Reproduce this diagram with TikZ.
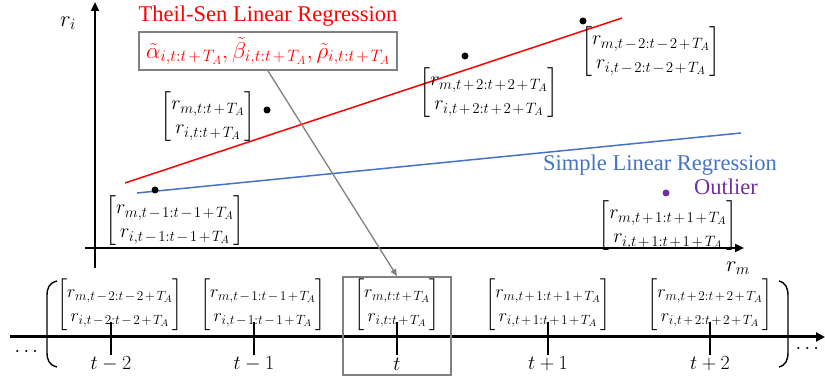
\RequirePackage{fix-cm}
\documentclass[tikz,border=0pt]{standalone}
\usepackage{amsmath}
\usepackage{fontspec}
\setmainfont{Liberation Serif}
\usetikzlibrary{arrows.meta}
\definecolor{slrblue}{HTML}{4472C4}
\definecolor{outl}{HTML}{7030A0}
\definecolor{boxgray}{HTML}{808080}
\DeclareMathSizes{20}{20}{15}{11}
\DeclareMathSizes{18}{18}{13.4}{9.8}
\DeclareMathSizes{23}{23}{16.5}{12}
\newcommand{\mi}{\mskip2mu{-}\mskip2mu}
\newcommand{\pl}{\mskip2mu{+}\mskip2mu}
\newcommand{\vv}[1]{\begin{bmatrix} r_{m,#1}\\ r_{i,#1}\end{bmatrix}}
\begin{document}
\begin{tikzpicture}[x=1pt,y=-1pt,
  vec/.style={inner sep=0pt, font=\fontsize{20}{24}\selectfont},
  bvec/.style={inner sep=0pt, font=\fontsize{18}{24}\selectfont},
  lbl/.style={inner sep=0pt, font=\fontsize{22.5}{26}\selectfont},
  ticklbl/.style={inner sep=0pt, font=\fontsize{20}{24}\selectfont},
  dot/.style={circle, fill=black, inner sep=0pt, minimum size=7pt},
  axis/.style={line width=2.5pt, -{Triangle[length=9pt,width=8pt]}},
  tickmark/.style={line width=1.5pt},
  graybox/.style={draw=boxgray, line width=1.8pt},
  paren/.style={line width=1.4pt}]
\useasboundingbox (0,0) rectangle (825,379);

% axes
\coordinate (yb) at (95,268);
\coordinate (yt) at (95,2);
\coordinate (xl) at (85,248);
\coordinate (xr) at (744,248);
\draw[axis] (yb) -- (yt);
\draw[axis] (xl) -- (xr);
\node[lbl] (ri) at (68,23) {$r_i$};
\node[lbl] (rm) at (738,268) {$r_m$};

% regression lines
\coordinate (ts1) at (125,183);
\coordinate (ts2) at (622,18);
\coordinate (sl1) at (137,193);
\coordinate (sl2) at (741,133);
\draw[red, line width=1.5pt] (ts1) -- (ts2);
\draw[slrblue, line width=1.5pt] (sl1) -- (sl2);

% labels
\node[lbl, text=red] (tslabel) at (268,16) {Theil-Sen Linear Regression};
\node[graybox, minimum width=258pt, minimum height=38pt, inner sep=0pt, text=red, font=\fontsize{23}{28}\selectfont]
  (params) at (268,51) {$\tilde{\alpha}_{i,t:t\pl T_A},\tilde{\beta}_{i,t:t\pl T_A},\tilde{\rho}_{i,t:t\pl T_A}$};
\node[lbl, text=slrblue] (slrlabel) at (660,165) {Simple Linear Regression};
\node[lbl, text=outl] (outlabel) at (726,187) {Outlier};

% points
\node[dot] (d0) at (267,110) {};
\node[dot] (dm1) at (155,190) {};
\node[dot] (dp2) at (465,56) {};
\node[dot] (dm2) at (583,21) {};
\node[dot, fill=outl] (dp1) at (666,193) {};

% vectors in plot
\node[vec] (v0) at (208,117) {$\vv{t:t\pl T_A}$};
\node[vec] (vm1) at (175,221) {$\vv{t\mi 1:t\mi 1\pl T_A}$};
\node[vec] (vp2) at (489,93) {$\vv{t\pl 2:t\pl 2\pl T_A}$};
\node[vec] (vm2) at (651,52) {$\vv{t\mi 2:t\mi 2\pl T_A}$};
\node[vec] (vp1) at (668,226) {$\vv{t\pl 1:t\pl 1\pl T_A}$};

% timeline
\coordinate (tl) at (10,337);
\coordinate (tr) at (825,337);
\draw[line width=3pt, -{Triangle[length=9pt,width=9pt]}] (tl) -- (tr);

\foreach \n/\x/\lab in {a/111/t-2, b/254/t-1, c/397/t, d/548/t+1, e/710/t+2}{
  \coordinate (tk\n1) at (\x,322);
  \coordinate (tk\n2) at (\x,355);
  \draw[tickmark] (tk\n1) -- (tk\n2);
  \node[ticklbl] (tl\n) at (\x,364) {$\lab$};
}

\node[bvec] (ba) at (120,305) {$\vv{t\mi 2:t\mi 2\pl T_A}$};
\node[bvec] (bb) at (263,305) {$\vv{t\mi 1:t\mi 1\pl T_A}$};
\node[bvec] (bc) at (397,305) {$\vv{t:t\pl T_A}$};
\node[bvec] (bd) at (548,305) {$\vv{t\pl 1:t\pl 1\pl T_A}$};
\node[bvec] (be) at (710,305) {$\vv{t\pl 2:t\pl 2\pl T_A}$};

% highlight box
\node[graybox, minimum width=108pt, minimum height=98pt, inner sep=0pt] (tbox) at (397,326) {};

% arrow from parameters to box
\draw[boxgray, line width=1.3pt, -{Triangle[length=7pt,width=6pt]}] (params.south) -- (tbox.north);

% parentheses
\coordinate (lp1) at (57,281);
\coordinate (lp2) at (57,367);
\draw[paren] (lp1) .. controls (49,283) and (47,288) .. (47,296) -- (47,352) .. controls (47,360) and (49,365) .. (lp2);
\coordinate (rp1) at (779,281);
\coordinate (rp2) at (779,367);
\draw[paren] (rp1) .. controls (786,283) and (788,288) .. (788,296) -- (788,352) .. controls (788,360) and (786,365) .. (rp2);

% dots
\node[ticklbl] (ldots) at (28,352) {$\cdots$};
\node[ticklbl] (rdots) at (809,349) {$\cdots$};
\end{tikzpicture}
\end{document}
